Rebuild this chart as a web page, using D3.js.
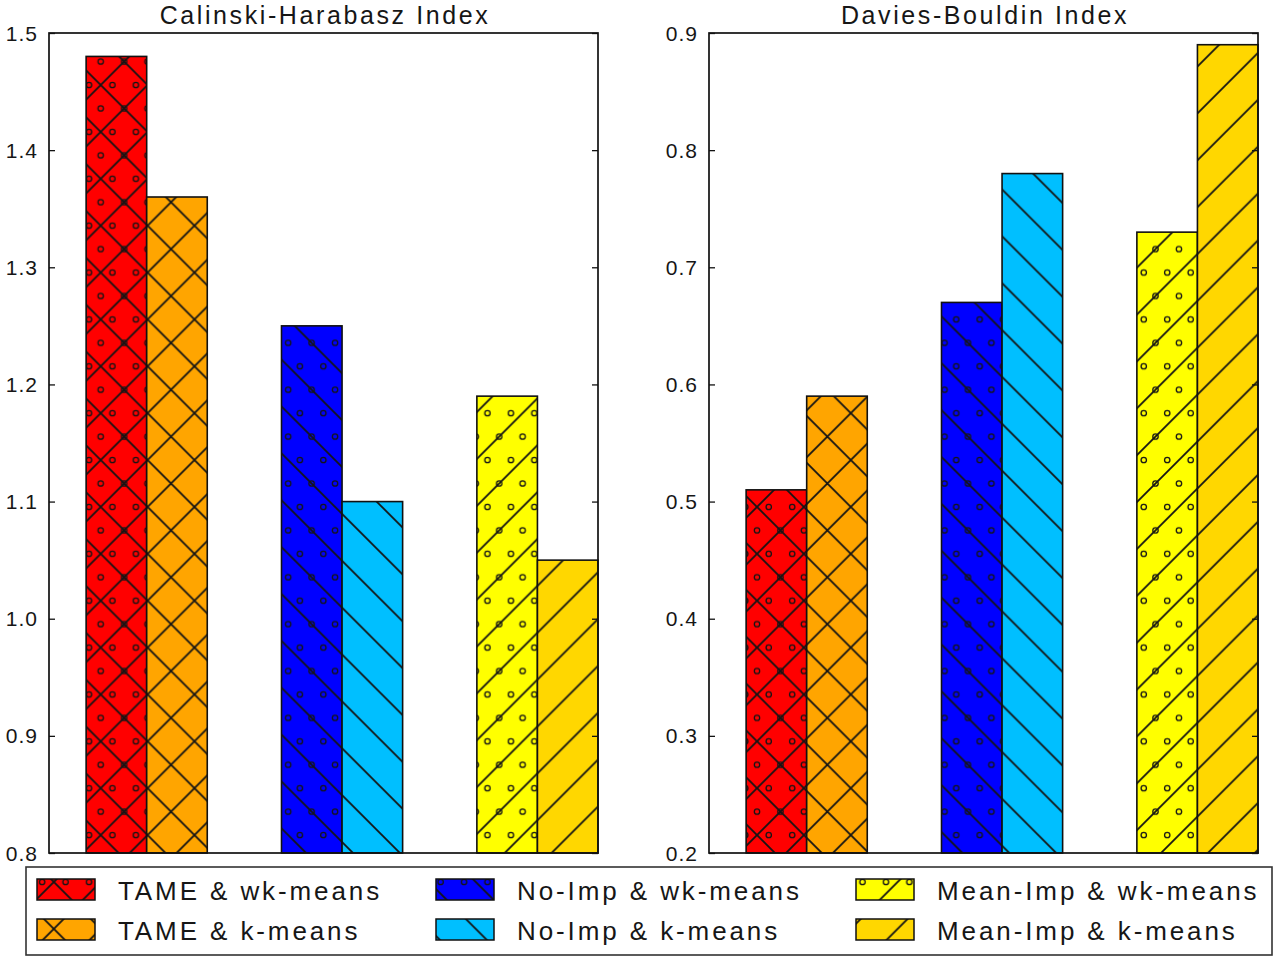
<!DOCTYPE html>
<html><head><meta charset="utf-8">
<script src="https://cdn.jsdelivr.net/npm/d3@7"></script>
<style>body{margin:0;background:#fff;} text{font-family:"Liberation Sans",Arial,sans-serif;fill:#161616;}</style>
</head><body>
<svg id="chart" width="1280" height="962"></svg>
<script>
// ---- data ----
const panelTitles = ["Calinski-Harabasz Index", "Davies-Bouldin Index"];
const seriesNames = ["TAME & wk-means", "TAME & k-means", "No-Imp & wk-means", "No-Imp & k-means", "Mean-Imp & wk-means", "Mean-Imp & k-means"];
const chValues = [1.48, 1.36, 1.25, 1.10, 1.19, 1.05];
const dbValues = [0.51, 0.59, 0.67, 0.78, 0.73, 0.89];
const chTicks = [0.8, 0.9, 1.0, 1.1, 1.2, 1.3, 1.4, 1.5];
const dbTicks = [0.2, 0.3, 0.4, 0.5, 0.6, 0.7, 0.8, 0.9];
const chDomain = [0.8, 1.5];
const dbDomain = [0.2, 0.9];
const seriesColors = ["#ff0000", "#ffa500", "#0000ff", "#00bfff", "#ffff00", "#ffd700"];
const seriesHatches = ["xo", "x", "\\o", "\\", "/o", "/"];

// ---- layout ----
const svg = d3.select("#chart");
svg.append("rect").attr("width", 1280).attr("height", 962).attr("fill", "#fff");
const T = 46.88, ox = 6.94, oy = 38.12;
const defs = svg.append("defs");
seriesColors.forEach((c, i) => {
  const h = seriesHatches[i];
  const p = defs.append("pattern").attr("id", "pat" + i)
    .attr("patternUnits", "userSpaceOnUse").attr("x", ox).attr("y", oy)
    .attr("width", T).attr("height", T);
  p.append("rect").attr("width", T).attr("height", T).attr("fill", c);
  let d = "";
  if (h.includes("x") || h.includes("\\")) {
    d += `M-3,-3L${T+3},${T+3}M${T-3},-3L${T+3},3M-3,${T-3}L3,${T+3}`;
  }
  if (h.includes("x") || h.includes("/")) {
    d += `M-3,${T+3}L${T+3},-3M-3,3L3,-3M${T-3},${T+3}L${T+3},${T-3}`;
  }
  p.append("path").attr("d", d).attr("stroke", "#141414").attr("stroke-width", 1.8).attr("fill", "none");
  if (h.includes("o")) {
    const pts = [[0, T/2], [T, T/2], [T/2, T/2], [T/4, 0], [3*T/4, 0], [T/4, T], [3*T/4, T]];
    p.selectAll("circle").data(pts).join("circle")
      .attr("cx", d => d[0]).attr("cy", d => d[1]).attr("r", 2.7)
      .attr("fill", "none").attr("stroke", "#141414").attr("stroke-width", 1.3);
  }
});

const panels = [
  {title: panelTitles[0], values: chValues, ticks: chTicks, domain: chDomain, x0: 49, x1: 598},
  {title: panelTitles[1], values: dbValues, ticks: dbTicks, domain: dbDomain, x0: 709, x1: 1258}
];
const yTop = 33, yBot = 853;
const barW = 0.31;

panels.forEach(pn => {
  const g = svg.append("g");
  const x = d3.scaleLinear().domain([-0.19, 2 + 2 * barW]).range([pn.x0, pn.x1]);
  const y = d3.scaleLinear().domain(pn.domain).range([yBot, yTop]);
  g.selectAll("rect.bar").data(pn.values).join("rect").attr("class", "bar")
    .attr("x", (d, i) => x(Math.floor(i / 2) + (i % 2) * barW))
    .attr("width", (d, i) => x(barW) - x(0))
    .attr("y", d => y(d)).attr("height", d => y(pn.domain[0]) - y(d))
    .attr("fill", (d, i) => `url(#pat${i})`)
    .attr("stroke", "#111").attr("stroke-width", 1.6);
  // frame
  g.append("rect").attr("x", pn.x0).attr("y", yTop).attr("width", pn.x1 - pn.x0).attr("height", yBot - yTop)
    .attr("fill", "none").attr("stroke", "#111").attr("stroke-width", 1.7);
  // inward ticks on both sides
  const axL = d3.axisRight(y).tickValues(pn.ticks).tickSize(6).tickFormat("");
  g.append("g").attr("transform", `translate(${pn.x0},0)`).call(axL)
    .call(s => s.select(".domain").remove())
    .call(s => s.selectAll("line").attr("stroke", "#111").attr("stroke-width", 1.3));
  const axR = d3.axisLeft(y).tickValues(pn.ticks).tickSize(6).tickFormat("");
  g.append("g").attr("transform", `translate(${pn.x1},0)`).call(axR)
    .call(s => s.select(".domain").remove())
    .call(s => s.selectAll("line").attr("stroke", "#111").attr("stroke-width", 1.3));
  // tick labels
  g.selectAll("text.tl").data(pn.ticks).join("text").attr("class", "tl")
    .attr("x", pn.x0 - 11).attr("y", d => y(d)).attr("dy", "0.36em")
    .attr("text-anchor", "end").attr("font-size", 21).attr("letter-spacing", 1)
    .text(d3.format(".1f"));
  // title
  g.append("text").attr("x", (pn.x0 + pn.x1) / 2 + 1.5).attr("y", 24)
    .attr("text-anchor", "middle").attr("font-size", 25).attr("letter-spacing", 2.6)
    .text(pn.title);
});

// legend
const lg = svg.append("g");
lg.append("rect").attr("x", 26).attr("y", 867).attr("width", 1246).attr("height", 88)
  .attr("fill", "#fff").attr("stroke", "#333").attr("stroke-width", 1.6);
const colX = [37, 436, 856];
seriesNames.forEach((nm, i) => {
  const col = Math.floor(i / 2), row = i % 2;
  const px = colX[col], py = 879 + row * 40;
  lg.append("rect").attr("x", px).attr("y", py).attr("width", 58).attr("height", 21)
    .attr("fill", `url(#pat${i})`).attr("stroke", "#111").attr("stroke-width", 1.5);
  lg.append("text").attr("x", px + 81).attr("y", py + 20.5).attr("font-size", 26)
    .attr("letter-spacing", 2.9).text(nm);
});
</script>
</body></html>
